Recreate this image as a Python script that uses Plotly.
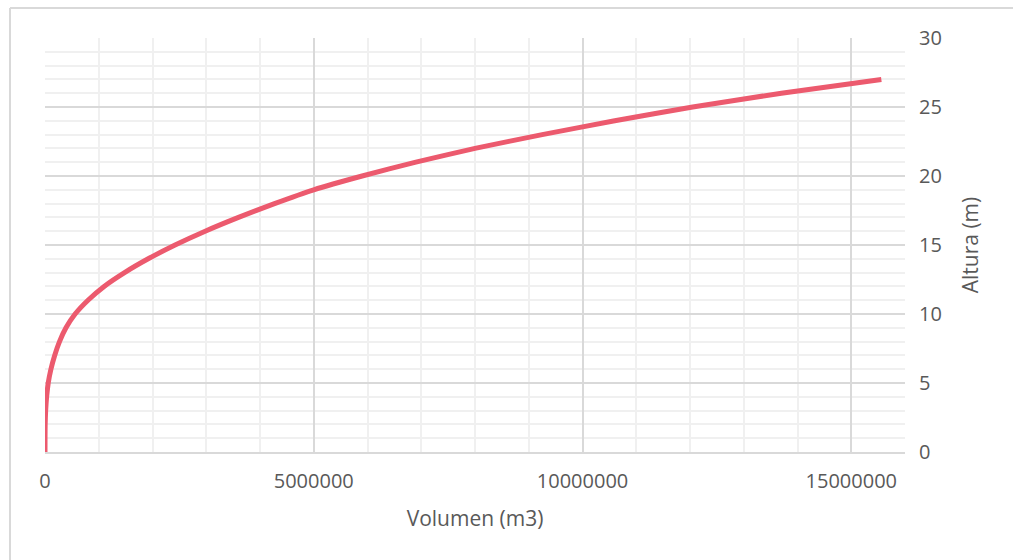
import plotly.graph_objects as go

# Curva altura-volumen del embalse
altura_m = [0, 1, 2, 3, 4, 5, 6, 7, 8, 9, 10, 11, 12, 13, 14, 15, 16, 17, 18,
            19, 20, 21, 22, 23, 24, 25, 26, 27]
volumen_m3 = [0, 400, 3000, 12000, 30000, 60000, 110000, 180000, 270000, 390000,
              560000, 800000, 1100000, 1480000, 1920000, 2420000, 2980000,
              3600000, 4270000, 5000000, 5900000, 6900000, 8000000, 9250000,
              10600000, 12050000, 13700000, 15560000]

x_ticks = [0, 5000000, 10000000, 15000000]
y_ticks = [0, 5, 10, 15, 20, 25, 30]

font_family = "Open Sans, Liberation Sans, sans-serif"
text_color = "#595959"
major_grid = "#D9D9D9"
minor_grid = "#F0F0F0"

fig = go.Figure()
fig.add_trace(go.Scatter(
    x=volumen_m3, y=altura_m, mode="lines",
    line=dict(color="#EC5A6E", width=5, shape="spline", smoothing=0.6),
    hoverinfo="x+y", showlegend=False,
))

fig.update_layout(
    width=1013, height=560,
    margin=dict(l=45, r=108, t=38, b=108),
    paper_bgcolor="white", plot_bgcolor="white",
    font=dict(family=font_family, color=text_color, size=20),
    xaxis=dict(
        range=[0, 16000000], tickvals=x_ticks, tickformat="d",
        showgrid=True, gridcolor=major_grid, gridwidth=2,
        minor=dict(dtick=1000000, showgrid=True, gridcolor=minor_grid, gridwidth=2),
        showline=True, linecolor=major_grid, linewidth=2,
        zeroline=False, ticks="", ticklabelstandoff=10,
        title=dict(text="Volumen (m3)", font=dict(size=21, color=text_color), standoff=18),
    ),
    yaxis=dict(
        range=[0, 30], tickvals=y_ticks, side="right",
        showgrid=True, gridcolor=major_grid, gridwidth=2,
        minor=dict(dtick=1, showgrid=True, gridcolor=minor_grid, gridwidth=2),
        zeroline=False, ticks="", ticklabelstandoff=13,
        title=dict(text="Altura (m)", font=dict(size=21, color=text_color), standoff=22),
    ),
    shapes=[
        # outer chart border (left and top edges)
        dict(type="line", xref="paper", yref="paper", x0=-0.0407, x1=-0.0407,
             y0=1.0725, y1=-0.27, line=dict(color="#D9D9D9", width=2)),
        dict(type="line", xref="paper", yref="paper", x0=-0.0407, x1=1.13,
             y0=1.0725, y1=1.0725, line=dict(color="#D9D9D9", width=2)),
    ],
)

fig.write_html("out.html")
